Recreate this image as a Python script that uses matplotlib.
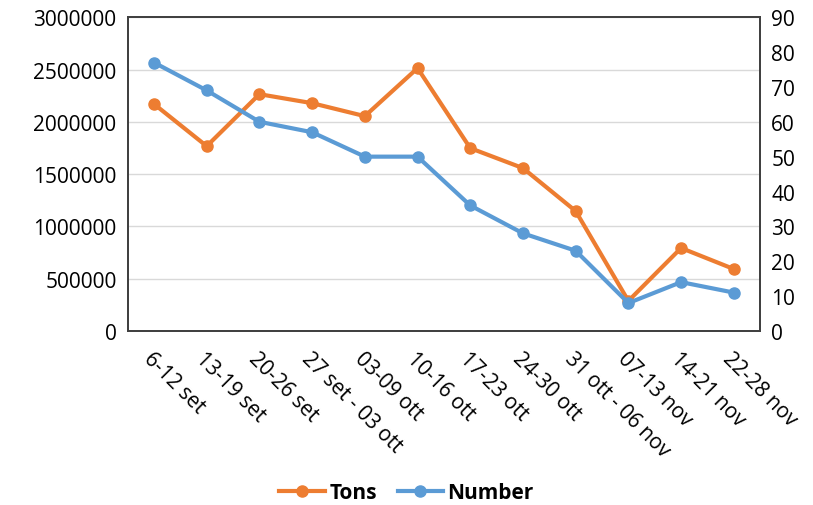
import matplotlib.pyplot as plt

weeks = ["6-12 set", "13-19 set", "20-26 set", "27 set - 03 ott", "03-09 ott",
         "10-16 ott", "17-23 ott", "24-30 ott", "31 ott - 06 nov", "07-13 nov",
         "14-21 nov", "22-28 nov"]
tons = [2170000, 1767000, 2264000, 2178000, 2054000, 2513000,
        1748000, 1557000, 1146000, 287000, 793000, 592000]
number = [77, 69, 60, 57, 50, 50, 36, 28, 23, 8, 14, 11]

orange = "#ED7D31"
blue = "#5B9BD5"

plt.rcParams['font.family'] = ['Open Sans', 'DejaVu Sans']

fig = plt.figure(figsize=(8.13, 5.06), dpi=100)
ax = fig.add_axes([0.157, 0.344, 0.778, 0.620])
ax2 = ax.twinx()

x = list(range(len(weeks)))
l1, = ax.plot(x, tons, color=orange, lw=3, marker="o", ms=8, label="Tons", zorder=3)
l2, = ax2.plot(x, number, color=blue, lw=3, marker="o", ms=8, label="Number", zorder=3)

ax.set_xlim(-0.5, len(weeks) - 0.5)
ax.set_ylim(0, 3000000)
ax.set_yticks(range(0, 3000001, 500000))
ax.set_yticklabels([str(v) for v in range(0, 3000001, 500000)])
ax2.set_ylim(0, 90)
ax2.set_yticks(range(0, 91, 10))

ax.grid(axis="y", color="#d9d9d9", lw=1)
ax.set_axisbelow(True)
ax.set_xticks(x)
ax.set_xticklabels(weeks, rotation=-45, ha="left", va="top", rotation_mode="anchor")

for a in (ax, ax2):
    a.tick_params(length=0, labelsize=15, pad=8)
    for s in a.spines.values():
        s.set_color("#404040")
        s.set_linewidth(1.3)
ax.tick_params(axis="x", pad=12)

fig.legend(handles=[l1, l2], loc="center", bbox_to_anchor=(0.5, 0.025), ncol=2,
           frameon=False, prop={"weight": "bold", "size": 15},
           handlelength=2.2, columnspacing=1.0, handletextpad=0.2)

fig.savefig("out.png", dpi=100)
